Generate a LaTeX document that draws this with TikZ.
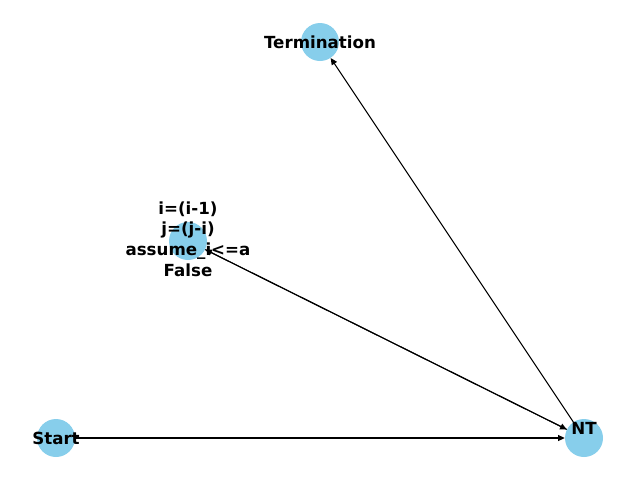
\documentclass[tikz,border=0pt]{standalone}
\usepackage{fontspec}
\setmainfont{DejaVu Sans}
\usetikzlibrary{arrows.meta}
\definecolor{skyblue}{HTML}{87CEEB}
\begin{document}
\begin{tikzpicture}[x=0.75pt,y=-0.75pt,
  vert/.style={circle,fill=skyblue,draw=none,minimum size=28.5pt,inner sep=0pt},
  lbl/.style={font=\fontsize{12.5pt}{15.5pt}\selectfont\bfseries,align=center,inner sep=0pt},
  edge/.style={line width=0.8pt,-{Triangle[length=5pt,width=4.5pt]}}]
\useasboundingbox (0,0) rectangle (640,480);
\node[vert] (start) at (56,438) {};
\node[vert] (nt) at (584,438) {};
\node[vert] (term) at (320,42) {};
\node[vert] (mid) at (188,241) {};
\draw[edge] (start) -- (nt);
\draw[edge] (nt) -- (term);
\draw[edge] (nt) -- (mid);
\draw[edge] (mid) -- (nt);
\node[lbl] (lstart) at (56,438) {Start};
\node[lbl] (lnt) at (584,428) {NT};
\node[lbl] (lterm) at (320,42) {Termination};
\node[lbl] (lmid) at (188,239) {i=(i-1)\\j=(j-i)\\assume\_i<=a\\False};
\end{tikzpicture}
\end{document}
